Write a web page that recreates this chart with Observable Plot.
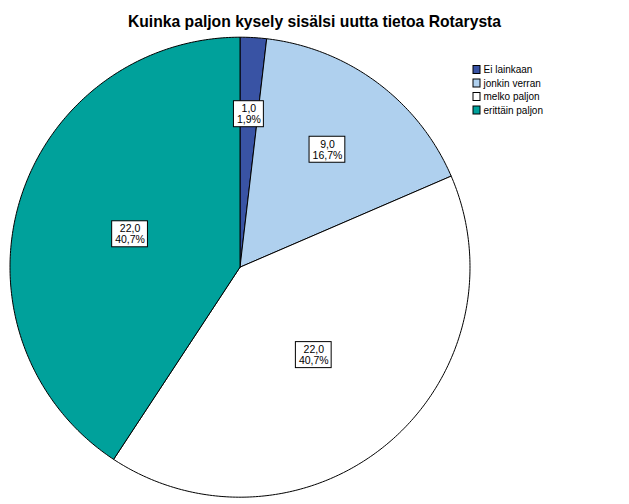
<!DOCTYPE html>
<html>
<head>
<meta charset="utf-8">
<script src="https://cdn.jsdelivr.net/npm/d3@7"></script>
<script src="https://cdn.jsdelivr.net/npm/@observablehq/plot@0.6"></script>
<style>
  html, body { margin: 0; padding: 0; background: #fff; }
  #wrap { width: 629px; height: 504px; position: relative; overflow: hidden; }
  #title { position: absolute; left: 0; top: 13px; width: 629px; text-align: center;
           font: bold 15.7px "Liberation Sans", Arial, sans-serif; color: #000; }
  #chart { position: absolute; left: 0; top: 34px; }
</style>
</head>
<body>
<div id="wrap">
  <div id="title">Kuinka paljon kysely sisälsi uutta tietoa Rotarysta</div>
  <div id="chart"></div>
</div>
<script>
const categories = ["Ei lainkaan", "jonkin verran", "melko paljon", "erittäin paljon"];
const counts = [1, 9, 22, 22];
const colors = ["#3953a4", "#afd0ee", "#ffffff", "#00a19b"];

const W = 629, H = 470;
const cx = 239.5, cy = 232.7, R = 230;
const total = d3.sum(counts);
const fmt = v => v.toFixed(1).replace(".", ",");

const arcs = d3.pie().sort(null).value(d => d)(counts);

// polygon points per slice (center -> arc -> center)
const slicePts = [];
arcs.forEach((a, i) => {
  const n = Math.max(4, Math.ceil((a.endAngle - a.startAngle) * 80));
  slicePts.push({category: categories[i], x: cx, y: cy});
  for (let k = 0; k <= n; k++) {
    const t = a.startAngle + (a.endAngle - a.startAngle) * k / n;
    slicePts.push({category: categories[i], x: cx + R * Math.sin(t), y: cy - R * Math.cos(t)});
  }
  slicePts.push({category: categories[i], x: cx, y: cy});
});

// labels at area centroid of each slice
const ctx = document.createElement("canvas").getContext("2d");
const labelFont = 10.5;
ctx.font = `${labelFont}px "Liberation Sans", Arial`;
const labels = arcs.map((a, i) => {
  const th = a.endAngle - a.startAngle;
  const mid = (a.startAngle + a.endAngle) / 2;
  const rc = 4 * R * Math.sin(th / 2) / (3 * th);
  const l1 = fmt(counts[i]);
  const l2 = fmt(counts[i] / total * 100) + "%";
  const w = Math.max(ctx.measureText(l1).width, ctx.measureText(l2).width) + 6;
  const h = 26;
  const x = cx + rc * Math.sin(mid), y = cy - rc * Math.cos(mid);
  return {x, y, text: l1 + "\n" + l2, x1: x - w / 2, x2: x + w / 2, y1: y - h / 2, y2: y + h / 2};
});

// legend
const lgX = 473, lgY0 = 31.5, lgStep = 13.5;
const legend = categories.map((c, i) => ({
  category: c,
  x1: lgX, x2: lgX + 7, y1: lgY0 + i * lgStep, y2: lgY0 + i * lgStep + 8,
  tx: lgX + 10, ty: lgY0 + i * lgStep + 4
}));

const chart = Plot.plot({
  width: W, height: H,
  marginTop: 0, marginRight: 0, marginBottom: 0, marginLeft: 0,
  x: {domain: [0, W], range: [0, W], axis: null},
  y: {domain: [0, H], range: [0, H], axis: null},
  color: {domain: categories, range: colors},
  style: {fontFamily: '"Liberation Sans", Arial, sans-serif', background: "#fff"},
  marks: [
    Plot.line(slicePts, {x: "x", y: "y", z: "category", fill: "category", stroke: "#000",
      strokeWidth: 1, strokeLinejoin: "round", curve: "linear"}),
    Plot.rect(labels, {x1: "x1", x2: "x2", y1: "y1", y2: "y2", fill: "#fff", stroke: "#000", strokeWidth: 1}),
    Plot.text(labels, {x: "x", y: "y", text: "text", fontSize: labelFont, lineHeight: 1.05, fill: "#000"}),
    Plot.rect(legend, {x1: "x1", x2: "x2", y1: "y1", y2: "y2", fill: "category", stroke: "#000", strokeWidth: 1}),
    Plot.text(legend, {x: "tx", y: "ty", text: "category", textAnchor: "start", fontSize: 10, fill: "#000"})
  ]
});
document.getElementById("chart").appendChild(chart);
</script>
</body>
</html>
